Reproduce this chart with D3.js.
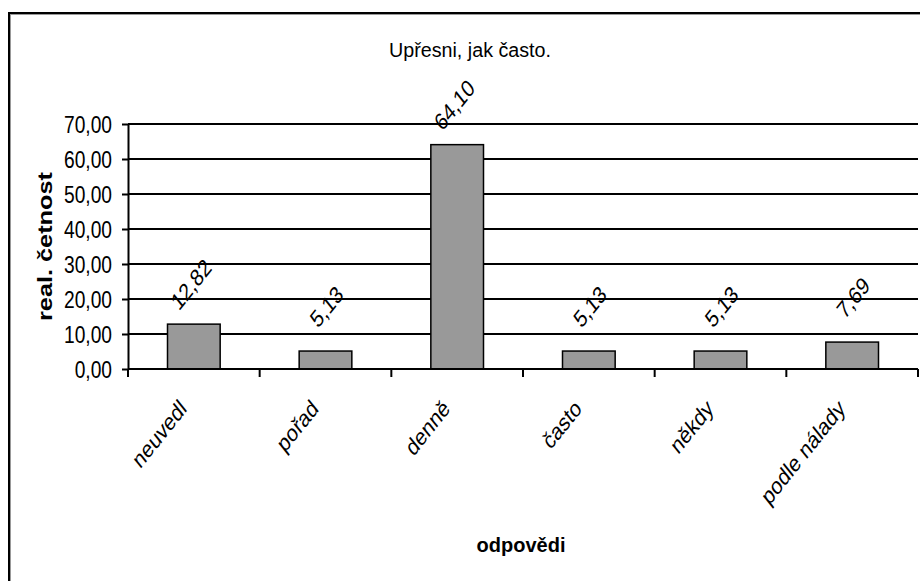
<!DOCTYPE html>
<html><head><meta charset="utf-8">
<script src="https://cdn.jsdelivr.net/npm/d3@7"></script>
<style>
html,body{margin:0;padding:0;background:#fff;}
svg{display:block;}
text{font-family:"Liberation Sans",Arial,sans-serif;fill:#000;}
</style></head>
<body>
<script>
const categories = ["neuvedl", "pořad", "denně", "často", "někdy", "podle nálady"];
const values = [12.82, 5.13, 64.10, 5.13, 5.13, 7.69];
const yTicks = [0, 10, 20, 30, 40, 50, 60, 70];
const title = "Upřesni, jak často.";
const yTitle = "real. četnost";
const xTitle = "odpovědi";

const W = 920, H = 581;
const M = {left: 128, right: 918, top: 124, bottom: 369};
const SX = 0.8, FS = 24;

const loc = d3.formatLocale({decimal: ",", thousands: " ", grouping: [3], currency: ["", ""]});
const fmt = loc.format(".2f");

const svg = d3.select("body").append("svg").attr("width", W).attr("height", H);

// outer chart border
svg.append("rect").attr("x", 10).attr("y", 14).attr("width", W).attr("height", H)
  .attr("fill", "none").attr("stroke", "#999").attr("stroke-width", 2);
svg.append("rect").attr("x", 9).attr("y", 13).attr("width", W).attr("height", H)
  .attr("fill", "none").attr("stroke", "#000").attr("stroke-width", 2);

const x = d3.scaleBand().domain(categories).range([M.left, M.right]).paddingInner(0).paddingOuter(0);
const y = d3.scaleLinear().domain([0, 70]).range([M.bottom, M.top]);

// gridlines
svg.append("g").selectAll("line").data(yTicks.filter(d => d > 0)).join("line")
  .attr("x1", M.left).attr("x2", M.right)
  .attr("y1", d => y(d)).attr("y2", d => y(d))
  .attr("stroke", "#000").attr("stroke-width", 2);

// bars
const bw = x.bandwidth() * 0.4;
svg.append("g").selectAll("rect").data(values).join("rect")
  .attr("x", (d, i) => x(categories[i]) + (x.bandwidth() - bw) / 2)
  .attr("y", d => y(d))
  .attr("width", bw)
  .attr("height", d => y(0) - y(d))
  .attr("fill", "#999999").attr("stroke", "#000").attr("stroke-width", 1.5);

// y axis
const yAxis = d3.axisLeft(y).tickValues(yTicks).tickSize(6).tickSizeOuter(0).tickFormat(fmt);
const gy = svg.append("g").attr("transform", `translate(${M.left},0)`).call(yAxis);
gy.select(".domain").attr("stroke", "#000").attr("stroke-width", 2);
gy.selectAll(".tick line").attr("stroke", "#000").attr("stroke-width", 2);
gy.selectAll(".tick text").attr("font-size", FS).attr("font-family", "Liberation Sans, Arial, sans-serif")
  .attr("x", -16 / SX).attr("dy", "0.36em").attr("transform", `scale(${SX},1)`).attr("fill", "#000");

// x axis (ticks at category boundaries)
const gx = svg.append("g").attr("transform", `translate(0,${M.bottom})`);
gx.append("line").attr("x1", M.left).attr("x2", M.right).attr("y1", 0).attr("y2", 0)
  .attr("stroke", "#000").attr("stroke-width", 2);
const bounds = categories.map(c => x(c)).concat([x(categories[categories.length - 1]) + x.bandwidth()]);
gx.selectAll("line.tk").data(bounds).join("line").attr("class", "tk")
  .attr("x1", d => d).attr("x2", d => d).attr("y1", 0).attr("y2", 8)
  .attr("stroke", "#000").attr("stroke-width", 2);

// category labels (rotated, horizontally compressed like the original)
svg.append("g").selectAll("text").data(categories).join("text")
  .attr("transform", d => `translate(${x(d) + x.bandwidth() / 2 - 6},${M.bottom + 41}) scale(${SX},1) rotate(-45)`)
  .attr("text-anchor", "end").attr("font-size", FS)
  .text(d => d);

// value labels (anchored at their end, above each bar)
svg.append("g").selectAll("text").data(values).join("text")
  .attr("transform", (d, i) => `translate(${x(categories[i]) + x.bandwidth() / 2 + 19},${y(d) - 55}) scale(${SX},1) rotate(-45)`)
  .attr("text-anchor", "end").attr("font-size", FS)
  .text(d => fmt(d));

// title
svg.append("text").attr("x", 470).attr("y", 57).attr("text-anchor", "middle")
  .attr("font-size", 20).attr("textLength", 162).attr("lengthAdjust", "spacingAndGlyphs").text(title);

// axis titles
svg.append("text").attr("transform", `translate(52,${(M.top + M.bottom) / 2}) rotate(-90)`)
  .attr("text-anchor", "middle").attr("font-size", 20).attr("font-weight", "bold")
  .attr("textLength", 149).attr("lengthAdjust", "spacingAndGlyphs").text(yTitle);
svg.append("text").attr("x", 521).attr("y", 552).attr("text-anchor", "middle")
  .attr("font-size", 20).attr("font-weight", "bold").text(xTitle);
</script>
</body></html>
